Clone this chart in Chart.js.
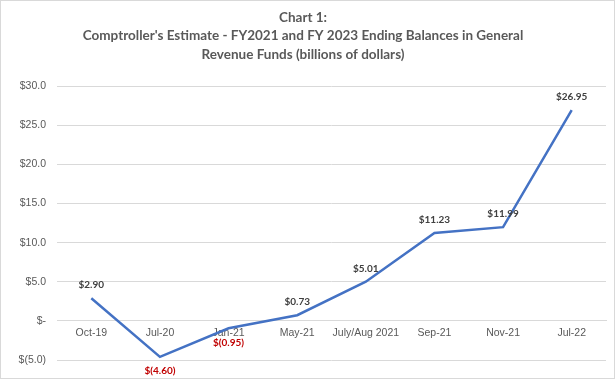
<!DOCTYPE html>
<html><head><meta charset="utf-8">
<script src="https://cdn.jsdelivr.net/npm/chart.js@4/dist/chart.umd.min.js"></script>
<style>html,body{margin:0;padding:0;background:#fff;}#c{display:block;}</style>
</head><body>
<canvas id="c" width="615" height="379"></canvas>
<script>
const categories = ['Oct-19','Jul-20','Jan-21','May-21','July/Aug 2021','Sep-21','Nov-21','Jul-22'];
const balances = [2.90, -4.60, -0.95, 0.73, 5.01, 11.23, 11.99, 26.95];
const titleLines = ['Chart 1:', "Comptroller's Estimate - FY2021 and FY 2023 Ending Balances in General", 'Revenue Funds (billions of dollars)'];

function fmtTick(v){
  if (Math.abs(v) < 1e-9) return '$-';
  if (v < 0) return '$(' + Math.abs(v).toFixed(1) + ')';
  return '$' + v.toFixed(1);
}
function fmtLabel(v){
  if (v < 0) return '$(' + Math.abs(v).toFixed(2) + ')';
  return '$' + v.toFixed(2);
}

const labelPlugin = {
  id: 'valueLabels',
  afterDatasetsDraw(chart){
    const ctx = chart.ctx;
    const meta = chart.getDatasetMeta(0);
    ctx.save();
    ctx.font = 'bold 10px Lato, "Open Sans", sans-serif';
    ctx.textAlign = 'center';
    ctx.textBaseline = 'middle';
    meta.data.forEach((pt, i) => {
      const v = balances[i];
      ctx.fillStyle = v < 0 ? '#C00000' : '#404040';
      const dy = v < 0 ? 14 : -13;
      ctx.fillText(fmtLabel(v), pt.x, pt.y + dy);
    });
    ctx.restore();
  }
};
const borderPlugin = {
  id: 'outerBorder',
  beforeDraw(chart){
    const ctx = chart.ctx;
    ctx.save();
    ctx.fillStyle = '#fff';
    ctx.fillRect(0,0,chart.width,chart.height);
    ctx.strokeStyle = '#d9d9d9';
    ctx.lineWidth = 1;
    ctx.strokeRect(0.5,0.5,chart.width-1,chart.height-1);
    ctx.restore();
  }
};

new Chart(document.getElementById('c'), {
  type: 'line',
  data: {
    labels: categories,
    datasets: [{
      data: balances,
      borderColor: '#4472C4',
      borderWidth: 2.5,
      pointRadius: 0,
      pointHoverRadius: 0,
      tension: 0,
      fill: false
    }]
  },
  options: {
    responsive: false,
    animation: false,
    events: [],
    layout: { padding: { left: 0, right: 9, top: 0, bottom: 19 } },
    plugins: {
      legend: { display: false },
      tooltip: { enabled: false },
      title: {
        display: true,
        text: titleLines,
        color: '#595959',
        font: { family: 'Lato, "Open Sans", sans-serif', size: 13.5, weight: 'bold', lineHeight: 1.34 },
        padding: { top: 9, bottom: 23 }
      }
    },
    scales: {
      x: {
        position: { y: 0 },
        offset: true,
        grid: { display: false, drawTicks: false },
        border: { display: true, color: '#d9d9d9', width: 1 },
        ticks: { color: '#595959', font: { family: '"Liberation Sans", Arial, sans-serif', size: 10.5 }, padding: 6, maxRotation: 0, autoSkip: false }
      },
      y: {
        min: -5, max: 30,
        afterFit(scale){ scale.width = 57; },
        grid: { color: '#d9d9d9', drawTicks: false },
        border: { display: false },
        ticks: { stepSize: 5, color: '#595959', font: { family: '"Liberation Sans", Arial, sans-serif', size: 10.5 }, padding: 11, callback: v => fmtTick(v) }
      }
    }
  },
  plugins: [borderPlugin, labelPlugin]
});
</script>
</body></html>
